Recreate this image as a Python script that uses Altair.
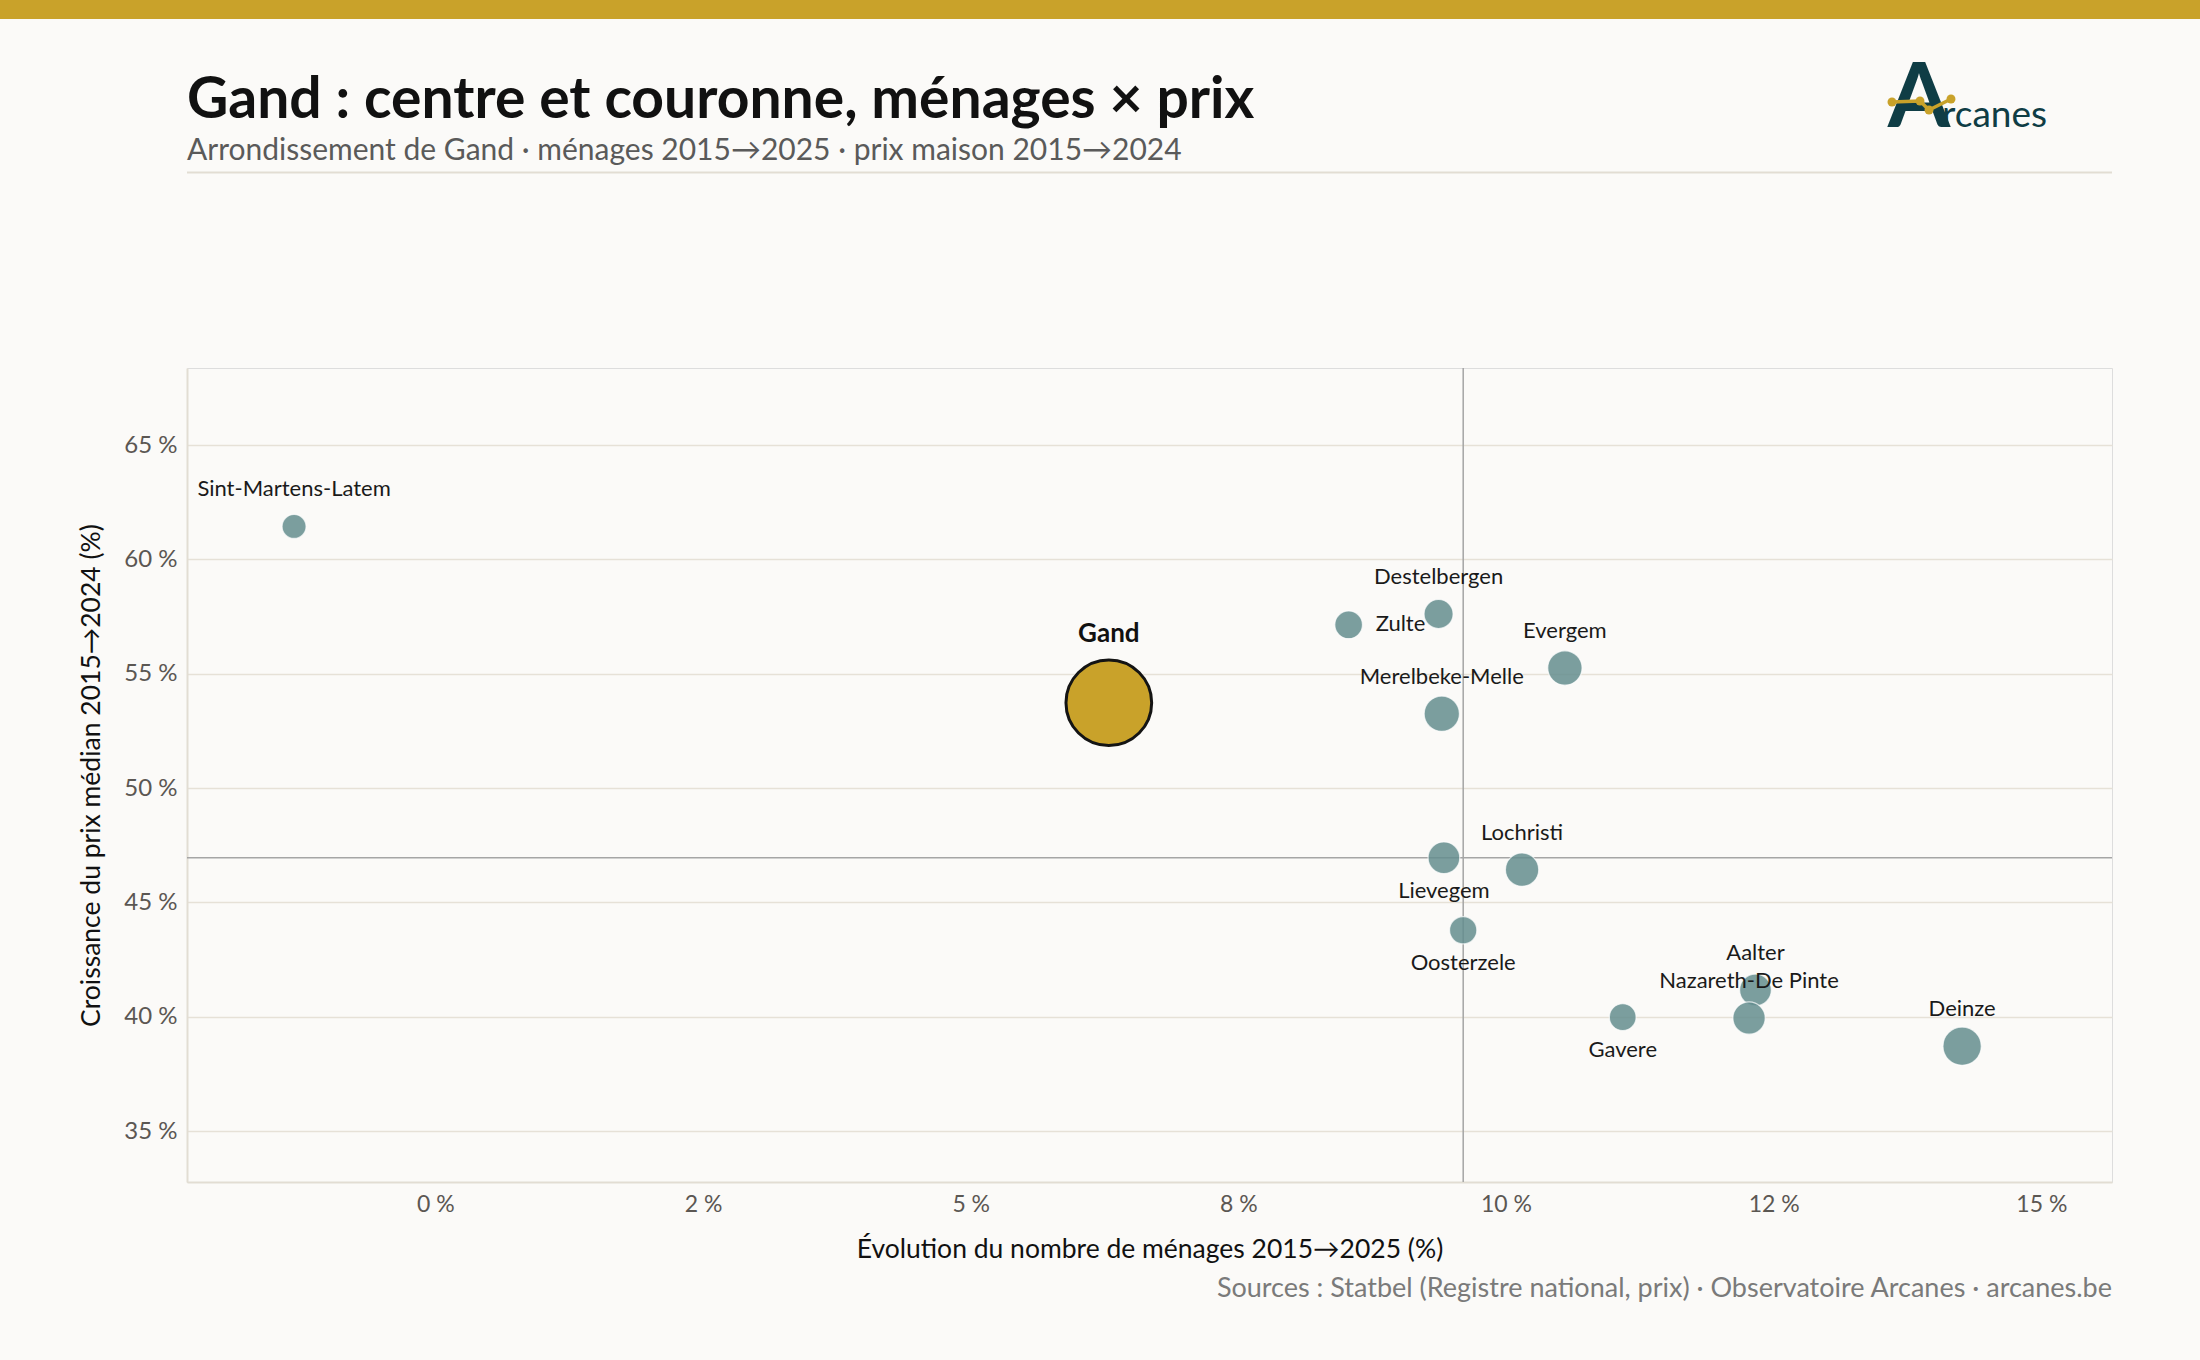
import altair as alt
import pandas as pd

# ---------------- data ----------------
communes = ["Sint-Martens-Latem", "Gand", "Zulte", "Destelbergen", "Evergem",
            "Merelbeke-Melle", "Lievegem", "Lochristi", "Oosterzele", "Gavere",
            "Aalter", "Nazareth-De Pinte", "Deinze"]
evol_menages = [-1.32, 6.29, 8.53, 9.37, 10.55, 9.40, 9.42, 10.15, 9.60, 11.09,
                12.33, 12.27, 14.26]
croissance_prix = [61.44, 53.73, 57.14, 57.61, 55.25, 53.25, 46.95, 46.43, 43.78,
                   39.98, 41.17, 39.94, 38.71]
menages_2025 = [3400, 125000, 6800, 8200, 14200, 15400, 11100, 13000, 6400, 5900,
                11100, 11800, 19400]

x_ticks = [0, 2.5, 5, 7.5, 10, 12.5, 15]
x_tick_labels = ["0 %", "2 %", "5 %", "8 %", "10 %", "12 %", "15 %"]
y_ticks = [35, 40, 45, 50, 55, 60, 65]

TITLE = "Gand : centre et couronne, ménages × prix"
SUBTITLE = "Arrondissement de Gand · ménages 2015→2025 · prix maison 2015→2024"
SOURCE = "Sources : Statbel (Registre national, prix) · Observatoire Arcanes · arcanes.be"
X_TITLE = "Évolution du nombre de ménages 2015→2025 (%)"
Y_TITLE = "Croissance du prix médian 2015→2024 (%)"

# label placement (style)
CENTRE = "Gand"
LABEL_BELOW = {"Lievegem", "Oosterzele", "Gavere"}
LABEL_RIGHT = {"Zulte"}

# ---------------- style ----------------
FONT = "Lato"
BG = "#fbfaf8"
GOLD = "#c9a22a"
TEAL = "#0f3d45"
BUBBLE = "#648d8e"
GRID = "#e6e1d7"
W, H = 1925, 814
PAD_L, PAD_T = 187, 368

df = pd.DataFrame({
    "commune": communes,
    "x": evol_menages,
    "y": croissance_prix,
    "menages": menages_2025,
})


def placement(c):
    if c == CENTRE:
        return "centre"
    if c in LABEL_BELOW:
        return "below"
    if c in LABEL_RIGHT:
        return "right"
    return "above"


df["pos"] = [placement(c) for c in communes]

label_expr = "''"
for v, l in reversed(list(zip(x_ticks, x_tick_labels))):
    label_expr = f"datum.value === {v} ? '{l}' : {label_expr}"

x_enc = alt.X("x:Q",
              scale=alt.Scale(domain=[-2.32, 15.66], nice=False, zero=False),
              axis=alt.Axis(values=x_ticks, labelExpr=label_expr, grid=False,
                            ticks=False, domainColor="#e2ddd3", domainWidth=2,
                            labelFontSize=23, labelColor="#5b5753", labelPadding=11,
                            title=X_TITLE, titleFontSize=26.5, titleFontWeight="normal",
                            titleColor="#111111", titleY=75,
                            titleBaseline="alphabetic"))
y_enc = alt.Y("y:Q",
              scale=alt.Scale(domain=[32.77, 68.37], nice=False, zero=False),
              axis=alt.Axis(values=y_ticks, labelExpr="datum.value + ' %'",
                            grid=True, gridColor=GRID, gridWidth=1.5, ticks=False,
                            domainColor="#e2ddd3", domainWidth=2, labelFontSize=24,
                            labelColor="#5b5753", labelPadding=10,
                            title=Y_TITLE, titleFontSize=26.5, titleFontWeight="normal",
                            titleColor="#111111", titleX=-96, titleY=H / 2,
                            titleBaseline="middle"))
size_enc = alt.Size("menages:Q",
                    scale=alt.Scale(type="linear", domain=[3400, 125000],
                                    range=[576, 7344], zero=False),
                    legend=None)

base = alt.Chart(df)

axes_layer = base.mark_point(opacity=0).encode(x=x_enc, y=y_enc)

ref_x = base.mark_rule(color="#a5a5a5", strokeWidth=1.5).encode(x="median(x):Q")
ref_y = base.mark_rule(color="#a5a5a5", strokeWidth=1.5).encode(y="median(y):Q")

bubbles = base.transform_filter(f"datum.commune !== '{CENTRE}'").mark_circle(
    color=BUBBLE, fillOpacity=0.85, stroke="#ffffff", strokeWidth=1.2,
    strokeOpacity=0.7
).encode(x="x:Q", y="y:Q", size=size_enc)

centre_bubble = base.transform_filter(f"datum.commune === '{CENTRE}'").mark_circle(
    color=GOLD, fillOpacity=1, stroke="#141414", strokeWidth=3, opacity=1
).encode(x="x:Q", y="y:Q", size=size_enc)

lab_style = dict(font=FONT, fontSize=22, color="#1a1a1a", baseline="middle")
lab_above = base.transform_filter("datum.pos === 'above'").mark_text(
    dy=-37, align="center", **lab_style).encode(x="x:Q", y="y:Q", text="commune:N")
lab_below = base.transform_filter("datum.pos === 'below'").mark_text(
    dy=33, align="center", **lab_style).encode(x="x:Q", y="y:Q", text="commune:N")
lab_right = base.transform_filter("datum.pos === 'right'").mark_text(
    dx=27, dy=-1, align="left", **lab_style).encode(x="x:Q", y="y:Q", text="commune:N")
lab_centre = base.transform_filter("datum.pos === 'centre'").mark_text(
    dy=-69, align="center", baseline="middle", font=FONT, fontSize=26,
    fontWeight="bold", color="#111111").encode(x="x:Q", y="y:Q", text="commune:N")

# ---------------- decorations ----------------
one = alt.Chart(pd.DataFrame({"d": [0]}))

gold_band = one.mark_rect(color=GOLD).encode(
    x=alt.value(-PAD_L), x2=alt.value(2200 - PAD_L),
    y=alt.value(-PAD_T), y2=alt.value(-PAD_T + 19))

title = one.mark_text(text=TITLE, font=FONT, fontSize=57, fontWeight="bold",
                      color="#111111", align="left", baseline="alphabetic").encode(
    x=alt.value(0), y=alt.value(118 - PAD_T))
subtitle = one.mark_text(text=SUBTITLE, font=FONT, fontSize=30, color="#5a5a5a",
                         align="left", baseline="alphabetic").encode(
    x=alt.value(0), y=alt.value(160 - PAD_T))
header_line = one.mark_rule(color="#e2ddd3", strokeWidth=2).encode(
    x=alt.value(0), x2=alt.value(W), y=alt.value(172.5 - PAD_T))

source = one.mark_text(text=SOURCE, font=FONT, fontSize=27, color="#7a7a7a",
                       align="right", baseline="alphabetic").encode(
    x=alt.value(W), y=alt.value(1297 - PAD_T))

logo_a = one.mark_text(text="A", font=FONT, fontSize=90, fontWeight="bold",
                       color=TEAL, align="center", baseline="alphabetic").encode(
    x=alt.value(1919 - PAD_L), y=alt.value(127 - PAD_T))
logo_txt = one.mark_text(text="rcanes", font=FONT, fontSize=37, color=TEAL,
                         align="left", baseline="alphabetic").encode(
    x=alt.value(1942 - PAD_L), y=alt.value(127 - PAD_T))

logo_pts = [(1892, 102), (1920, 101), (1929, 110), (1951, 99)]
logo_layers = []
for (xa, ya), (xb, yb) in zip(logo_pts[:-1], logo_pts[1:]):
    logo_layers.append(one.mark_rule(color=GOLD, strokeWidth=3.5).encode(
        x=alt.value(xa - PAD_L), x2=alt.value(xb - PAD_L),
        y=alt.value(ya - PAD_T), y2=alt.value(yb - PAD_T)))
for xa, ya in logo_pts:
    logo_layers.append(one.mark_circle(color=GOLD, opacity=1, size=80).encode(
        x=alt.value(xa - PAD_L), y=alt.value(ya - PAD_T)))

chart = alt.layer(
    axes_layer, ref_x, ref_y, bubbles, centre_bubble,
    lab_above, lab_below, lab_right, lab_centre,
    gold_band, title, subtitle, header_line, source, logo_a, logo_txt, *logo_layers
).properties(
    width=W, height=H,
    autosize=alt.AutoSizeParams(type="none"),
    padding={"left": PAD_L, "top": PAD_T, "right": 2200 - PAD_L - W,
             "bottom": 1360 - PAD_T - H},
    background=BG,
).configure_view(fill="#ffffff", strokeWidth=0).configure(font=FONT)

chart.save("out.html", embed_options={"renderer": "svg", "actions": False})
